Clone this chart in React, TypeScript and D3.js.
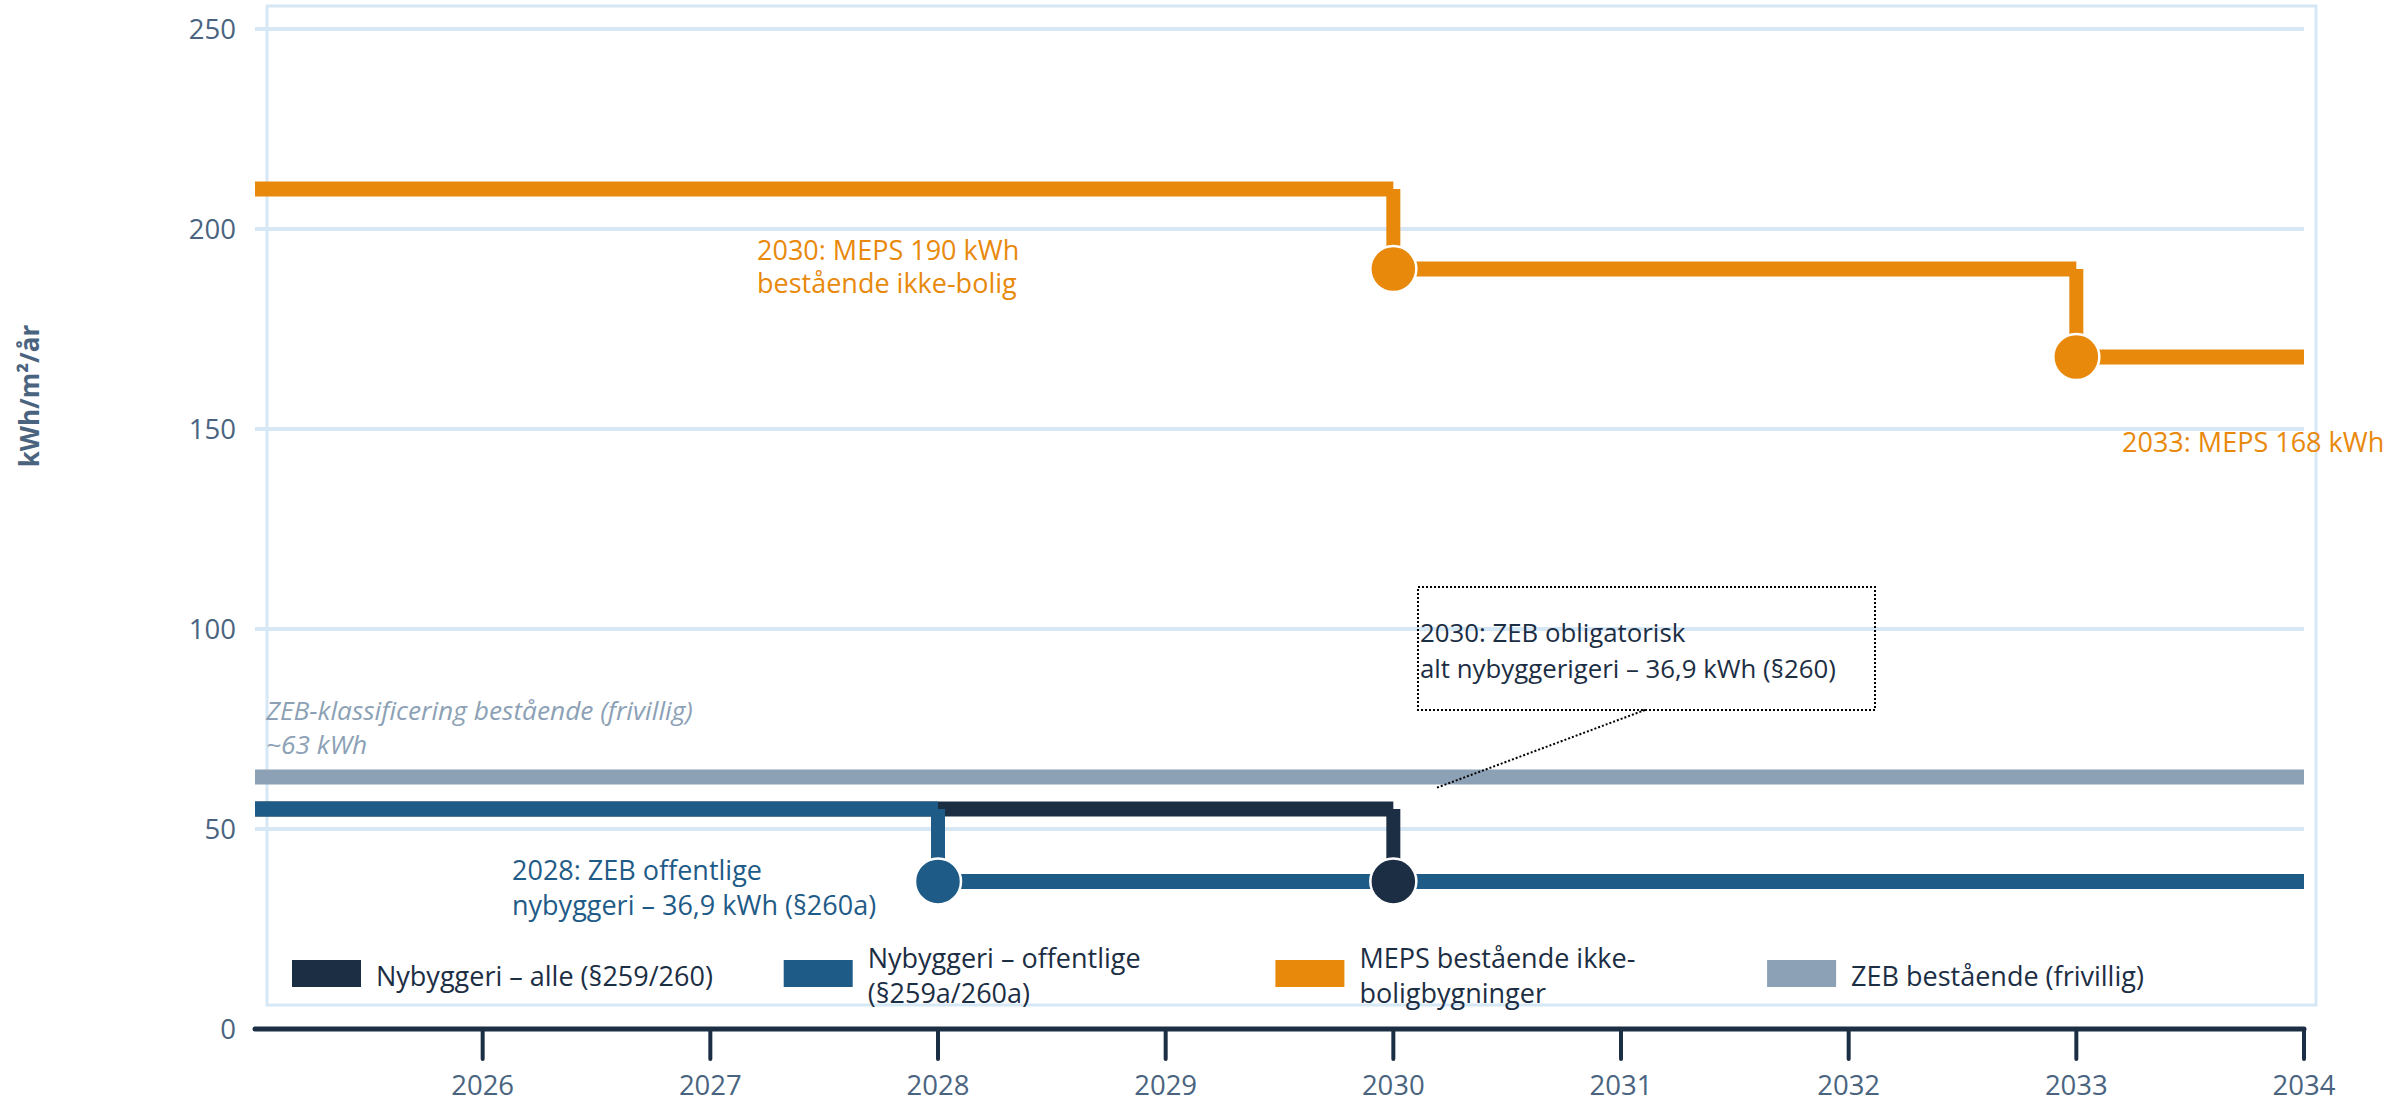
import * as React from 'react'
import * as d3 from 'd3'

const yearTicks = [2026, 2027, 2028, 2029, 2030, 2031, 2032, 2033, 2034]
const valueTicks = [0, 50, 100, 150, 200, 250]
const startYear = 2025
const endYear = 2034

// each series: year where a level starts, and the level (kWh/m²/år)
const zebYears = [2025]
const zebValues = [63]
const mepsYears = [2025, 2030, 2033]
const mepsValues = [210, 190, 168]
const allNewYears = [2025, 2030]
const allNewValues = [55, 36.9]
const publicNewYears = [2025, 2028]
const publicNewValues = [55, 36.9]

const legendLabels = [
  ['Nybyggeri – alle (§259/260)'],
  ['Nybyggeri – offentlige', '(§259a/260a)'],
  ['MEPS bestående ikke-', 'boligbygninger'],
  ['ZEB bestående (frivillig)'],
]

const NAVY = '#1c2e44'
const BLUE = '#1f5b87'
const ORANGE = '#e8890c'
const GREY = '#8ca1b5'
const GRID = '#d6e8f6'
const LABEL = '#4a6480'
const FONT = "'Open Sans', sans-serif"

const W = 2397
const H = 1101

const x = d3.scaleLinear().domain([startYear, endYear]).range([255, 2304])
const y = d3.scaleLinear().domain([0, 250]).range([1029, 29])

const series = [
  { key: 'zeb', years: zebYears, values: zebValues, color: GREY },
  { key: 'meps', years: mepsYears, values: mepsValues, color: ORANGE },
  { key: 'all', years: allNewYears, values: allNewValues, color: NAVY },
  { key: 'public', years: publicNewYears, values: publicNewValues, color: BLUE },
]

function StepSeries({ years, values, color }: { years: number[]; values: number[]; color: string }) {
  return (
    <g>
      {years.map((yr, i) => {
        const next = i < years.length - 1 ? years[i + 1] : endYear
        return (
          <g key={yr}>
            <line x1={x(yr)} x2={x(next)} y1={y(values[i])} y2={y(values[i])} stroke={color} strokeWidth={15} />
            {i > 0 && (
              <line x1={x(yr)} x2={x(yr)} y1={y(values[i - 1])} y2={y(values[i])} stroke={color} strokeWidth={14} />
            )}
          </g>
        )
      })}
    </g>
  )
}

function Markers({ years, values, color }: { years: number[]; values: number[]; color: string }) {
  return (
    <g>
      {years.slice(1).map((yr, i) => (
        <circle key={yr} cx={x(yr)} cy={y(values[i + 1])} r={23} fill={color} stroke="#fff" strokeWidth={2.5} />
      ))}
    </g>
  )
}

export default function App() {
  const markerOrder = [series[3], series[2], series[1]]
  return (
    <svg width={W} height={H} style={{ position: 'absolute', left: 0, top: 0, background: '#fff' }} fontFamily={FONT}>
      {/* frame */}
      <rect x={267} y={6} width={2316 - 267} height={1005 - 6} fill="none" stroke={GRID} strokeWidth={3} />

      {/* grid + y labels */}
      {valueTicks.map((v) => (
        <g key={v}>
          {v > 0 && <line x1={x(startYear)} x2={x(endYear)} y1={y(v)} y2={y(v)} stroke={GRID} strokeWidth={4} />}
          <text x={236} y={y(v)} dy="0.36em" textAnchor="end" fontSize={27.5} fill={LABEL}>
            {v}
          </text>
        </g>
      ))}

      <text
        transform={`translate(30, 396) rotate(-90)`}
        textAnchor="middle"
        dy="0.36em"
        fontSize={26}
        fontWeight="bold"
        fill={LABEL}
      >
        kWh/m²/år
      </text>

      {/* x axis */}
      <line x1={x(startYear)} x2={x(endYear)} y1={y(0)} y2={y(0)} stroke={NAVY} strokeWidth={5} strokeLinecap="round" />
      {yearTicks.map((t) => (
        <g key={t}>
          <line x1={x(t)} x2={x(t)} y1={y(0)} y2={y(0) + 30} stroke={NAVY} strokeWidth={4} strokeLinecap="round" />
          <text x={x(t)} y={1085} dy="0.36em" textAnchor="middle" fontSize={27.5} fill={LABEL}>
            {t}
          </text>
        </g>
      ))}

      {/* series */}
      {series.map((s) => (
        <StepSeries key={s.key} years={s.years} values={s.values} color={s.color} />
      ))}

      {/* callout */}
      <rect x={1418} y={587} width={457} height={123} fill="none" stroke="#000" strokeWidth={2} strokeDasharray="2,2" />
      <line x1={1645} y1={710} x2={1436} y2={788} stroke="#000" strokeWidth={2} strokeDasharray="2,2" />
      <text fontSize={25.8} fill={NAVY}>
        <tspan x={1420} y={642}>2030: ZEB obligatorisk</tspan>
        <tspan x={1420} y={678}>alt nybyggerigeri – 36,9 kWh (§260)</tspan>
      </text>

      {markerOrder.map((s) => (
        <Markers key={s.key} years={s.years} values={s.values} color={s.color} />
      ))}

      {/* annotations */}
      <text fontSize={27} fill={ORANGE}>
        <tspan x={757} y={260}>2030: MEPS 190 kWh</tspan>
        <tspan x={757} y={293}>bestående ikke-bolig</tspan>
      </text>
      <text x={2122} y={452} fontSize={27} fill={ORANGE}>
        2033: MEPS 168 kWh
      </text>
      <text fontSize={27} fill={BLUE}>
        <tspan x={512} y={880}>2028: ZEB offentlige</tspan>
        <tspan x={512} y={915}>nybyggeri – 36,9 kWh (§260a)</tspan>
      </text>
      <text fontSize={26.3} fill={GREY} fontStyle="italic">
        <tspan x={266} y={720}>ZEB-klassificering bestående (frivillig)</tspan>
        <tspan x={266} y={754}>~63 kWh</tspan>
      </text>

      {/* legend */}
      {legendLabels.map((lines, i) => {
        const lx = 292 + i * 491.7
        return (
          <g key={i}>
            <rect x={lx} y={960} width={69} height={27} fill={series[[2, 3, 1, 0][i]].color} />
            <text fontSize={27} fill={NAVY}>
              {lines.map((ln, j) => (
                <tspan key={j} x={lx + 84} y={lines.length === 1 ? 986 : 968 + j * 35}>
                  {ln}
                </tspan>
              ))}
            </text>
          </g>
        )
      })}
    </svg>
  )
}
